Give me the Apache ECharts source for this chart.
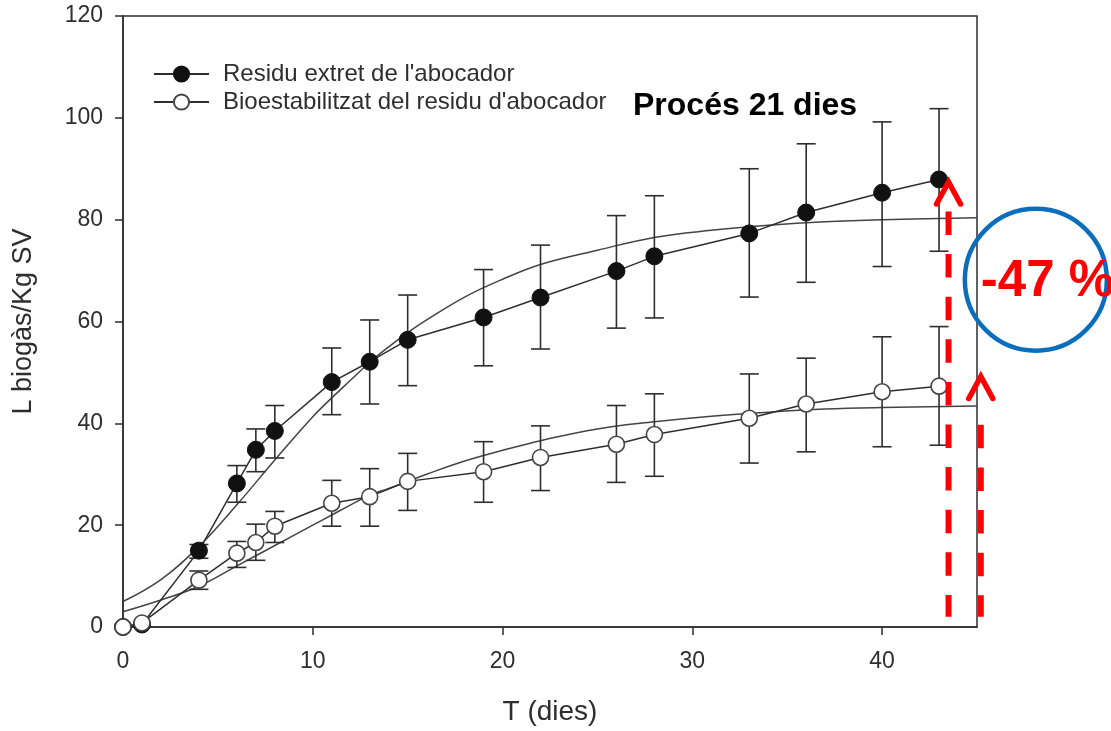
<!DOCTYPE html>
<html>
<head>
<meta charset="utf-8">
<script src="https://cdn.jsdelivr.net/npm/echarts@6/dist/echarts.min.js"></script>
<style>
html,body{margin:0;padding:0;background:#fff;}
#chart{width:1111px;height:731px;}
</style>
</head>
<body>
<div id="chart"></div>
<script>
// ---- Data ----
const days = [0, 1, 4, 6, 7, 8, 11, 13, 15, 19, 22, 26, 28, 33, 36, 40, 43];
const residu = [0, 0.5, 15.0, 28.2, 34.8, 38.5, 48.1, 52.1, 56.4, 60.8, 64.7, 69.9, 72.8, 77.3, 81.4, 85.3, 87.9];
const residuLow = [null, null, 13.5, 24.5, 30.5, 33.2, 41.7, 43.8, 47.4, 51.3, 54.6, 58.7, 60.7, 64.8, 67.7, 70.8, 73.8];
const residuHigh = [null, null, 16.2, 31.7, 38.9, 43.5, 54.8, 60.3, 65.2, 70.2, 75.0, 80.8, 84.7, 90.0, 94.9, 99.2, 101.8];
const bio = [0, 0.8, 9.2, 14.5, 16.6, 19.8, 24.3, 25.6, 28.6, 30.5, 33.3, 35.9, 37.8, 41.0, 43.8, 46.2, 47.3];
const bioLow = [null, null, 7.4, 11.7, 13.1, 16.6, 19.8, 19.8, 22.9, 24.5, 26.8, 28.4, 29.6, 32.2, 34.4, 35.4, 35.7];
const bioHigh = [null, null, 11.0, 16.8, 20.2, 22.7, 28.8, 31.1, 34.1, 36.4, 39.5, 43.5, 45.8, 49.7, 52.8, 57.0, 59.0];
// fitted curves
const fitX = [0, 2, 4, 6, 8, 10, 11, 12, 13, 14, 15, 16, 18, 20, 22, 25, 28, 31, 34, 37, 40, 45];
const fitResidu = [5.0, 9.3, 15.8, 24.0, 32.8, 41.3, 45.0, 48.5, 52.0, 55.0, 57.8, 60.3, 64.8, 68.3, 71.2, 74.0, 76.5, 77.9, 78.9, 79.6, 80.0, 80.4];
const fitBio = [3.0, 5.3, 8.0, 12.0, 16.0, 20.0, 22.0, 24.0, 25.9, 27.2, 28.6, 30.0, 32.6, 34.7, 36.6, 38.9, 40.3, 41.4, 42.2, 42.8, 43.1, 43.4];
const xTicks = [0, 10, 20, 30, 40];
const yTicks = [0, 20, 40, 60, 80, 100, 120];
const names = ["Residu extret de l'abocador", "Bioestabilitzat del residu d'abocador"];
// annotations (data coordinates)
const arrowX = [43.5, 45.2];
const arrowTip = [87.4, 49.2];
const arrowLineTop = [81.6, 39.7];
const arrowBottom = [2.0, 2.0];
const circleCenter = [48.1, 68.2];
const pctText = '-47 %';
const procesText = 'Procés 21 dies';

const FONT = "'Liberation Sans', Arial, sans-serif";
const INK = '#2e2e2e';

const zip = (a, b) => a.map((v, i) => [v, b[i]]);
const errData = (lo, hi) => days.map((d, i) => [d, lo[i], hi[i]]).filter(r => r[1] !== null);

function errRender(params, api) {
  const x = api.value(0);
  const top = api.coord([x, api.value(2)]);
  const bot = api.coord([x, api.value(1)]);
  const hw = 9.5;
  const st = {stroke: INK, lineWidth: 1.6};
  return {
    type: 'group',
    children: [
      {type: 'line', shape: {x1: top[0], y1: top[1], x2: bot[0], y2: bot[1]}, style: st},
      {type: 'line', shape: {x1: top[0] - hw, y1: top[1], x2: top[0] + hw, y2: top[1]}, style: st},
      {type: 'line', shape: {x1: bot[0] - hw, y1: bot[1], x2: bot[0] + hw, y2: bot[1]}, style: st}
    ]
  };
}

const chart = echarts.init(document.getElementById('chart'));
const option = {
  animation: false,
  backgroundColor: '#fff',
  grid: {left: 123, right: 134, top: 16, bottom: 102, show: true, borderColor: INK, borderWidth: 1.5},
  legend: {
    orient: 'vertical', left: 148, top: 57, itemWidth: 55, itemHeight: 19, itemGap: 4,
    data: names,
    textStyle: {fontFamily: FONT, fontSize: 24, color: INK, padding: [0, 0, 0, 9]}
  },
  xAxis: {
    type: 'value', min: 0, max: 45, interval: 10,
    name: 'T (dies)', nameLocation: 'middle', nameGap: 71,
    nameTextStyle: {fontFamily: FONT, fontSize: 28, color: INK},
    axisLine: {lineStyle: {color: INK, width: 1.5}},
    axisTick: {show: true, length: 8, lineStyle: {color: INK, width: 1.5}, customValues: xTicks},
    axisLabel: {margin: 23, fontFamily: FONT, fontSize: 23, color: INK, customValues: xTicks},
    splitLine: {show: false}
  },
  yAxis: {
    type: 'value', min: 0, max: 120, interval: 20,
    name: 'L biogàs/Kg SV', nameLocation: 'middle', nameGap: 86,
    nameTextStyle: {fontFamily: FONT, fontSize: 27, color: INK},
    axisLine: {show: true, lineStyle: {color: INK, width: 1.5}},
    axisTick: {show: true, length: 8, lineStyle: {color: INK, width: 1.5}, customValues: yTicks},
    axisLabel: {margin: 20, fontFamily: FONT, fontSize: 23, color: INK, customValues: yTicks},
    splitLine: {show: false}
  },
  series: [
    {type: 'line', name: 'fitA', data: zip(fitX, fitResidu), smooth: 0.4, symbol: 'none', clip: false,
      lineStyle: {color: '#444', width: 1.5}, z: 2, legendHoverLink: false},
    {type: 'line', name: 'fitB', data: zip(fitX, fitBio), smooth: 0.4, symbol: 'none', clip: false,
      lineStyle: {color: '#444', width: 1.5}, z: 2, legendHoverLink: false},
    {type: 'custom', name: 'errA', data: errData(residuLow, residuHigh), renderItem: errRender,
      encode: {x: 0, y: [1, 2]}, z: 3, clip: false},
    {type: 'custom', name: 'errB', data: errData(bioLow, bioHigh), renderItem: errRender,
      encode: {x: 0, y: [1, 2]}, z: 3, clip: false},
    {type: 'line', name: names[0], data: zip(days, residu), symbol: 'circle', symbolSize: 17, clip: false,
      lineStyle: {color: INK, width: 1.5}, itemStyle: {color: '#111', borderColor: '#111', borderWidth: 1}, z: 5},
    {type: 'line', name: names[1], data: zip(days, bio), symbol: 'circle', symbolSize: 16, clip: false,
      lineStyle: {color: INK, width: 1.5}, itemStyle: {color: '#fff', borderColor: '#444', borderWidth: 1.6}, z: 6}
  ]
};
chart.setOption(option);

// annotations placed through the chart's own coordinate conversion
const px = p => chart.convertToPixel({gridIndex: 0}, p);
const red = '#ff0000';
const g = [];
for (let i = 0; i < arrowX.length; i++) {
  const top = px([arrowX[i], arrowLineTop[i]]);
  const bot = px([arrowX[i], arrowBottom[i]]);
  const tip = px([arrowX[i], arrowTip[i]]);
  g.push({type: 'line', z: 100, shape: {x1: top[0], y1: top[1], x2: bot[0], y2: bot[1]},
    style: {stroke: red, lineWidth: 6, lineDash: [23.5, 19.1]}});
  g.push({type: 'polyline', z: 100, shape: {points: [[tip[0] - 12, tip[1] + 22], [tip[0], tip[1]], [tip[0] + 12, tip[1] + 22]]},
    style: {stroke: red, lineWidth: 5.5, lineCap: 'round', lineJoin: 'miter', fill: null}});
}
const cc = px(circleCenter);
g.push({type: 'circle', z: 100, shape: {cx: cc[0], cy: cc[1], r: 71},
  style: {stroke: '#0a6ebd', lineWidth: 4.5, fill: null}});
g.push({type: 'text', z: 101, x: cc[0] - 55, y: cc[1] + 2,
  style: {text: pctText, fill: red, font: "bold 51px 'Liberation Sans', Arial, sans-serif", verticalAlign: 'middle', align: 'left'}});
g.push({type: 'text', z: 101, x: 633, y: 106,
  style: {text: procesText, fill: '#000', font: "bold 32px 'Liberation Sans', Arial, sans-serif", verticalAlign: 'middle', align: 'left'}});
chart.setOption({graphic: {elements: g}});
</script>
</body>
</html>
